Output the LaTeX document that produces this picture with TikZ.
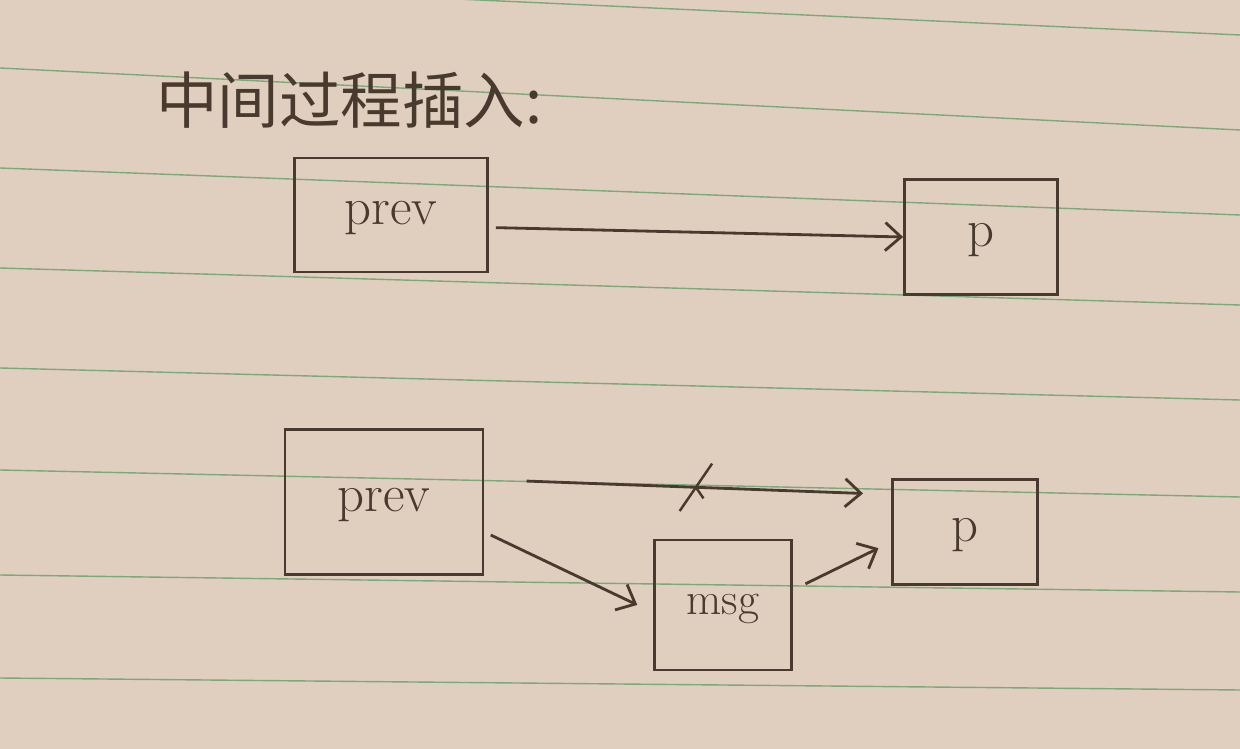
\documentclass[tikz,border=0pt]{standalone}
\usepackage{fontspec}
\newfontfamily\cjk{Noto Sans CJK SC}
\usetikzlibrary{arrows.meta,shapes.misc}
\definecolor{paper}{RGB}{224,207,190}
\definecolor{ink}{RGB}{72,58,46}
\definecolor{rulegreen}{RGB}{125,168,122}

\begin{document}
\begin{tikzpicture}[x=0.02cm,y=-0.02cm,
    box/.style={draw=ink, line width=1.6pt, text=ink, inner sep=0pt},
    arr/.style={draw=ink, line width=1.6pt, -{Straight Barb[length=9pt,width=16pt]}},
    lbl/.style={text=ink, font=\fontsize{30}{36}\selectfont, text height=1.1em, text depth=0pt}]
    % paper and ruling
    \fill[paper] (0,0) rectangle (1240,749);
    \useasboundingbox (0,0) rectangle (1240,749);
    \foreach \a/\b in {-22/35,68/130,168/215,268/305,368/400,470/497,575/592,678/690}
      \draw[rulegreen, line width=0.8pt] (0,\a) -- (1240,\b);
    \node[anchor=west, text=ink, font=\cjk\fontsize{35}{42}\selectfont] (title) at (150,100) {中间过程插入:};
    % before
    \node[box, lbl, minimum width=3.86cm, minimum height=2.28cm] (prevA) at (391,215) {prev};
    \node[box, lbl, minimum width=3.06cm, minimum height=2.3cm] (pA) at (981,237) {p};
    \draw[arr, shorten <=4pt] ([yshift=-0.25cm]prevA.east) -- (pA.west);
    % after
    \node[box, lbl, minimum width=3.96cm, minimum height=2.9cm] (prevB) at (384,502) {prev};
    \node[box, lbl, minimum width=2.9cm, minimum height=2.1cm] (pB) at (965,532) {p};
    \node[box, lbl, font=\fontsize{26}{30}\selectfont, minimum width=2.74cm, minimum height=2.6cm] (msg) at (723,605) {msg};
    \draw[arr, shorten <=24pt, shorten >=16pt] ([yshift=0.45cm]prevB.east) -- ([yshift=0.75cm]pB.west)
      node[pos=0.52, cross out, draw=ink, line width=1.4pt, minimum width=0.6cm, minimum height=0.9cm] (cut) {};
    \draw[arr, shorten <=4pt, shorten >=10pt] ([yshift=-0.6cm]prevB.east) -- ([yshift=-0.15cm]msg.west);
    \draw[arr, shorten <=8pt, shorten >=8pt] ([yshift=0.3cm]msg.east) -- ([yshift=-0.2cm]pB.west);
\end{tikzpicture}
\end{document}
